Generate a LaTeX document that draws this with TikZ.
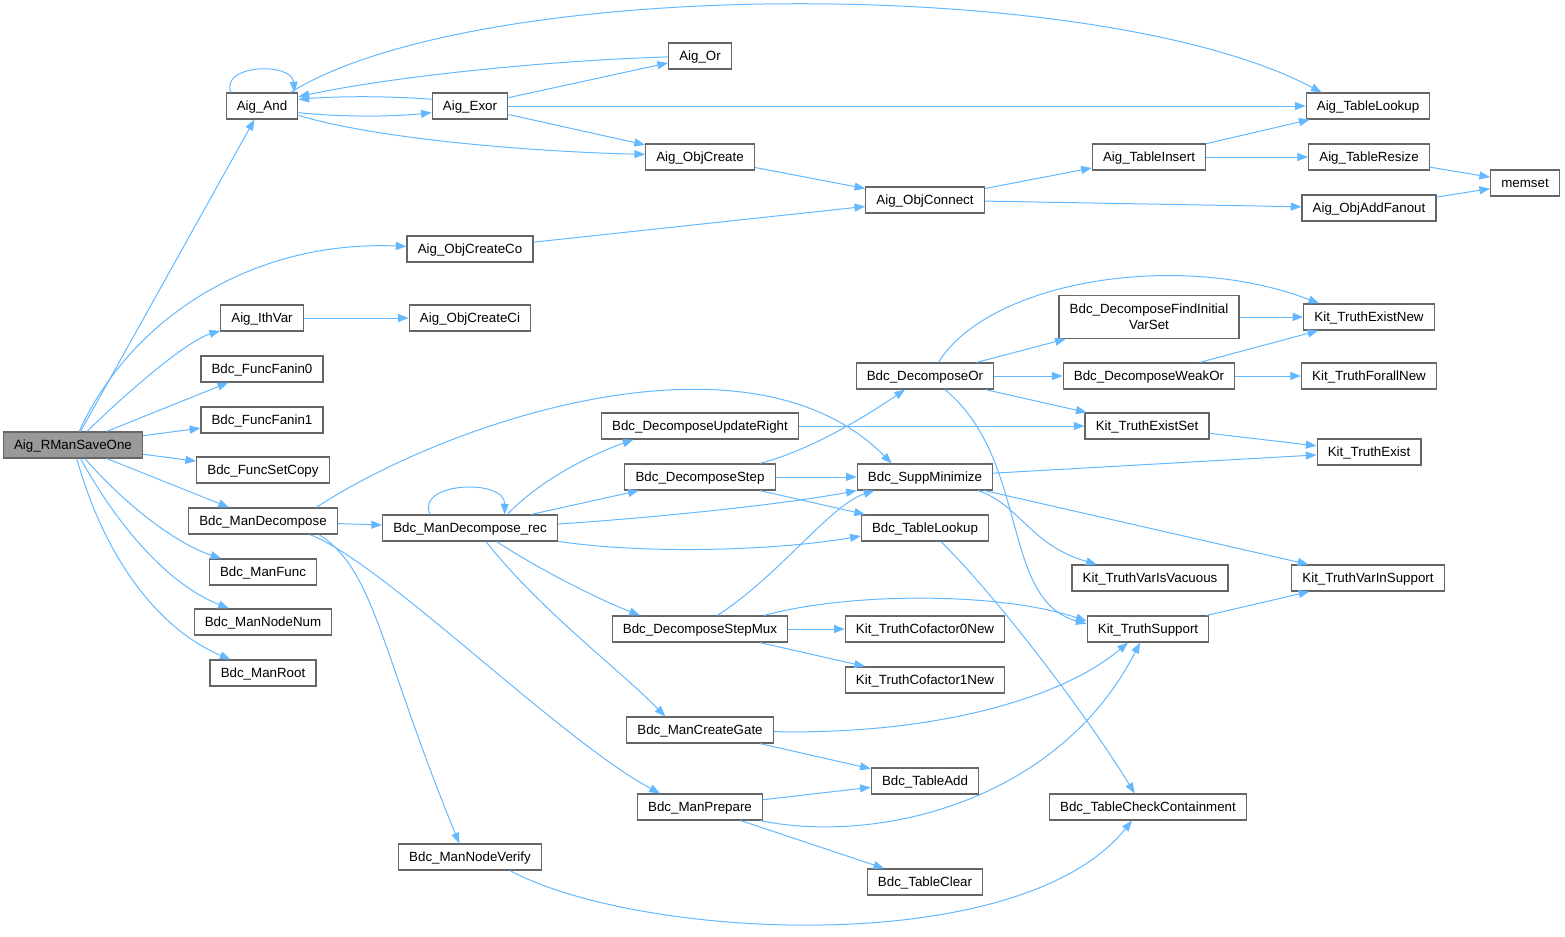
\documentclass[tikz,border=0pt]{standalone}
\usepackage{fontspec}
\setmainfont{Liberation Sans}
\usepackage{xcolor}
\usepackage{tikz}
\usetikzlibrary{arrows.meta}
\definecolor{callblue}{RGB}{99,184,255}
\definecolor{boxgray}{RGB}{102,102,102}
\tikzset{
  fn/.style={draw=boxgray, fill=white, line width=0.9pt, font=\fontsize{10}{12}\selectfont,
    inner xsep=8pt, inner ysep=0pt, minimum height=19.5pt, text height=7.7pt, text depth=0.9pt},
  root/.style={fn, fill=gray!80},
  call/.style={callblue, line width=0.75pt, -{Triangle[length=8pt,width=6pt]}}
}

\begin{document}
\begin{tikzpicture}[x=0.75pt,y=-0.75pt]
\useasboundingbox (0,0) rectangle (1565,936);

\node[root] (rms) at (73,445) {Aig\_RManSaveOne};

\node[fn] (aigand) at (262,106) {Aig\_And};
\node[fn] (ithvar) at (262,318) {Aig\_IthVar};
\node[fn] (fanin0) at (262,369) {Bdc\_FuncFanin0};
\node[fn] (fanin1) at (262,420) {Bdc\_FuncFanin1};
\node[fn] (setcopy) at (263,470) {Bdc\_FuncSetCopy};
\node[fn] (mandec) at (263,521) {Bdc\_ManDecompose};
\node[fn] (manfunc) at (263,572) {Bdc\_ManFunc};
\node[fn] (nodenum) at (263,622) {Bdc\_ManNodeNum};
\node[fn] (manroot) at (263,673) {Bdc\_ManRoot};

\node[fn] (aigexor) at (470,106) {Aig\_Exor};
\node[fn] (createco) at (470,249) {Aig\_ObjCreateCo};
\node[fn] (createci) at (470,318) {Aig\_ObjCreateCi};
\node[fn] (decrec) at (470,528) {Bdc\_ManDecompose\_rec};
\node[fn] (nodeverify) at (470,857) {Bdc\_ManNodeVerify};

\node[fn] (aigor) at (700,56) {Aig\_Or};
\node[fn] (objcreate) at (700,157) {Aig\_ObjCreate};
\node[fn] (updright) at (700,426) {Bdc\_DecomposeUpdateRight};
\node[fn] (decstep) at (700,477) {Bdc\_DecomposeStep};
\node[fn] (stepmux) at (700,629) {Bdc\_DecomposeStepMux};
\node[fn] (creategate) at (700,730) {Bdc\_ManCreateGate};
\node[fn] (manprep) at (700,807) {Bdc\_ManPrepare};

\node[fn] (objconnect) at (925,200) {Aig\_ObjConnect};
\node[fn] (decor) at (925,376) {Bdc\_DecomposeOr};
\node[fn] (suppmin) at (925,477) {Bdc\_SuppMinimize};
\node[fn] (btlookup) at (925,528) {Bdc\_TableLookup};
\node[fn] (cof0) at (925,629) {Kit\_TruthCofactor0New};
\node[fn] (cof1) at (925,680) {Kit\_TruthCofactor1New};
\node[fn] (tableadd) at (925,781) {Bdc\_TableAdd};
\node[fn] (tableclear) at (925,882) {Bdc\_TableClear};

\node[fn] (tinsert) at (1149,157) {Aig\_TableInsert};
\node[fn, align=center, minimum height=32pt, text height=19.7pt] (findinit) at (1149,317) {Bdc\_DecomposeFindInitial\\VarSet};
\node[fn] (weakor) at (1149,376) {Bdc\_DecomposeWeakOr};
\node[fn] (existset) at (1147,426) {Kit\_TruthExistSet};
\node[fn] (vacuous) at (1150,578) {Kit\_TruthVarIsVacuous};
\node[fn] (tsupport) at (1148,629) {Kit\_TruthSupport};
\node[fn] (checkcont) at (1148,807) {Bdc\_TableCheckContainment};

\node[fn] (tlookup) at (1368,106) {Aig\_TableLookup};
\node[fn] (tresize) at (1369,157) {Aig\_TableResize};
\node[fn] (addfanout) at (1369,208) {Aig\_ObjAddFanout};
\node[fn] (existnew) at (1369,317) {Kit\_TruthExistNew};
\node[fn] (forallnew) at (1369,376) {Kit\_TruthForallNew};
\node[fn] (exist) at (1369,452) {Kit\_TruthExist};
\node[fn] (varinsupp) at (1368,578) {Kit\_TruthVarInSupport};

\node[fn] (memset) at (1525,183) {memset};

\draw[call] (rms) -- (aigand);
\draw[call] (rms) .. controls (130,320) and (250,240) .. (createco);
\draw[call] (rms) .. controls (140,380) and (190,340) .. (ithvar);
\draw[call] (rms) -- (fanin0);
\draw[call] (rms) -- (fanin1);
\draw[call] (rms) -- (setcopy);
\draw[call] (rms) -- (mandec);
\draw[call] (rms) .. controls (130,510) and (180,545) .. (manfunc);
\draw[call] (rms) .. controls (120,530) and (170,585) .. (nodenum);
\draw[call] (rms) .. controls (105,560) and (160,630) .. (manroot);

\draw[call] ([xshift=4pt]aigand.north west) .. controls (220,64) and (292,62) .. ([xshift=-3pt]aigand.north east);
\draw[call] ([yshift=-5pt]aigand.east) .. controls (340,117) and (390,117) .. ([yshift=-5pt]aigexor.west);
\draw[call] ([yshift=-7pt]aigand.east) .. controls (380,140) and (540,152) .. ([yshift=2pt]objcreate.west);
\draw[call] ([xshift=-6pt]aigand.north east) .. controls (480,-25) and (1100,-25) .. ([xshift=12pt]tlookup.north west);
\draw[call] ([yshift=5pt]aigexor.west) .. controls (390,96) and (340,96) .. ([yshift=5pt]aigand.east);
\draw[call] (aigexor) -- (aigor);
\draw[call] (aigexor) -- (tlookup);
\draw[call] (aigexor) -- (objcreate);
\draw[call] (aigor) .. controls (560,60) and (400,75) .. ([yshift=7pt]aigand.east);

\draw[call] (objcreate) -- (objconnect);
\draw[call] (createco) -- (objconnect);
\draw[call] (ithvar) -- (createci);
\draw[call] (objconnect) -- (tinsert);
\draw[call] (objconnect) -- (addfanout);
\draw[call] (tinsert) -- (tlookup);
\draw[call] (tinsert) -- (tresize);
\draw[call] (tresize) -- (memset);
\draw[call] (addfanout) -- (memset);

\draw[call] (mandec) -- (decrec);
\draw[call] ([xshift=40pt]mandec.north) .. controls (450,420) and (750,320) .. ([xshift=-25pt]suppmin.north);
\draw[call] ([xshift=35pt]mandec.south) .. controls (380,560) and (560,740) .. ([xshift=-30pt]manprep.north);
\draw[call] ([xshift=42pt]mandec.south) .. controls (375,570) and (380,650) .. ([xshift=-8pt]nodeverify.north);

\draw[call] ([xshift=-30pt]decrec.north) .. controls (415,482) and (505,478) .. ([xshift=26pt]decrec.north);
\draw[call] ([xshift=28pt]decrec.north) .. controls (540,480) and (590,455) .. ([xshift=-50pt]updright.south);
\draw[call] (decrec) -- (decstep);
\draw[call] ([yshift=3pt]decrec.east) .. controls (650,518) and (780,505) .. (suppmin.south west);
\draw[call] ([yshift=-10pt]decrec.east) .. controls (650,555) and (780,550) .. ([yshift=-6pt]btlookup.west);
\draw[call] ([xshift=20pt]decrec.south) .. controls (540,570) and (600,600) .. ([xshift=-45pt]stepmux.north);
\draw[call] ([xshift=12pt]decrec.south) .. controls (540,610) and (620,670) .. ([xshift=-26pt]creategate.north);

\draw[call] (updright) -- (existset);
\draw[call] ([xshift=45pt]decstep.north) .. controls (810,450) and (860,420) .. ([xshift=-15pt]decor.south);
\draw[call] (decstep) -- (suppmin);
\draw[call] (decstep) -- (btlookup);
\draw[call] ([xshift=13pt]stepmux.north) .. controls (780,575) and (830,505) .. ([xshift=-38pt]suppmin.south);
\draw[call] ([xshift=48pt]stepmux.north) .. controls (850,592) and (1000,592) .. ([yshift=6pt]tsupport.west);
\draw[call] (stepmux) -- (cof0);
\draw[call] (stepmux) -- (cof1);
\draw[call] (creategate) .. controls (930,735) and (1060,700) .. ([xshift=-15pt]tsupport.south);
\draw[call] (creategate) -- (tableadd);
\draw[call] (manprep) -- (tableadd);
\draw[call] ([xshift=45pt]manprep.south) .. controls (880,845) and (1060,800) .. ([xshift=-6pt]tsupport.south);
\draw[call] (manprep) -- (tableclear);
\draw[call] ([xshift=30pt]nodeverify.south) .. controls (640,940) and (1020,960) .. ([xshift=-12pt]checkcont.south);
\draw[call] ([xshift=12pt]btlookup.south) .. controls (1000,600) and (1090,720) .. ([xshift=-10pt]checkcont.north);

\draw[call] ([xshift=10pt]decor.north) .. controls (990,280) and (1180,250) .. ([xshift=12pt]existnew.north west);
\draw[call] (decor) -- (findinit);
\draw[call] (decor) -- (weakor);
\draw[call] (decor) -- (existset);
\draw[call] ([xshift=15pt]decor.south) .. controls (1030,460) and (1000,600) .. ([yshift=4pt]tsupport.west);
\draw[call] (findinit) -- (existnew);
\draw[call] (weakor) -- (existnew);
\draw[call] (weakor) -- (forallnew);
\draw[call] (existset) -- (exist);
\draw[call] (suppmin) -- (exist);
\draw[call] ([xshift=40pt]suppmin.south) .. controls (1020,505) and (1030,545) .. ([xshift=-40pt]vacuous.north);
\draw[call] (suppmin) -- (varinsupp);
\draw[call] (tsupport) -- (varinsupp);
\end{tikzpicture}
\end{document}
